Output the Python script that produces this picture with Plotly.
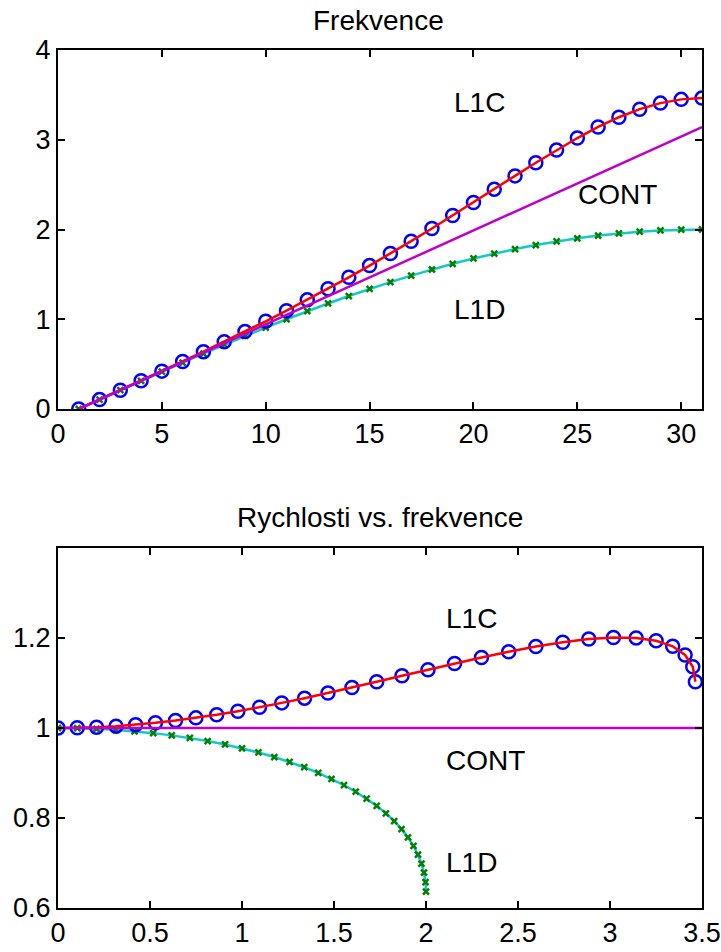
import plotly.graph_objects as go

# ---- data ----
idx = list(range(1, 32))

l1c_freq = [0, 0.1048, 0.2098, 0.3155, 0.4219, 0.5296, 0.6387, 0.7495, 0.8624, 0.9776,
            1.0954, 1.2162, 1.3400, 1.4671, 1.5978, 1.7321, 1.8698, 2.0110, 2.1552, 2.3016,
            2.4495, 2.5973, 2.7432, 2.8847, 3.0189, 3.1422, 3.2508, 3.3407, 3.4081, 3.4499, 3.4641]
l1d_freq = [0, 0.1047, 0.2091, 0.3129, 0.4158, 0.5176, 0.6180, 0.7167, 0.8135, 0.9080,
            1.0000, 1.0893, 1.1756, 1.2586, 1.3383, 1.4142, 1.4863, 1.5543, 1.6180, 1.6773,
            1.7321, 1.7820, 1.8271, 1.8672, 1.9021, 1.9319, 1.9563, 1.9754, 1.9890, 1.9973, 2.0000]
cont_freq = [0, 0.1047, 0.2094, 0.3142, 0.4189, 0.5236, 0.6283, 0.7330, 0.8378, 0.9425,
             1.0472, 1.1519, 1.2566, 1.3614, 1.4661, 1.5708, 1.6755, 1.7802, 1.8850, 1.9897,
             2.0944, 2.1991, 2.3038, 2.4086, 2.5133, 2.6180, 2.7227, 2.8274, 2.9322, 3.0369, 3.1416]

l1c_vel = [1.0, 1.0004, 1.0018, 1.0041, 1.0073, 1.0115, 1.0165, 1.0225, 1.0294, 1.0373,
           1.0461, 1.0558, 1.0663, 1.0777, 1.0899, 1.1027, 1.1160, 1.1296, 1.1433, 1.1568,
           1.1695, 1.1811, 1.1907, 1.1977, 1.2012, 1.2002, 1.1940, 1.1815, 1.1623, 1.1360, 1.1027]
l1d_vel = [1.0, 0.9995, 0.9982, 0.9959, 0.9927, 0.9886, 0.9836, 0.9778, 0.9710, 0.9634,
           0.9549, 0.9456, 0.9355, 0.9245, 0.9128, 0.9003, 0.8871, 0.8731, 0.8584, 0.8430,
           0.8270, 0.8103, 0.7931, 0.7752, 0.7568, 0.7379, 0.7185, 0.6987, 0.6784, 0.6577, 0.6366]
cont_vel_x = [0, 3.5]
cont_vel_y = [1, 1]

top_xticks = [0, 5, 10, 15, 20, 25, 30]
top_yticks = [0, 1, 2, 3, 4]
bot_xticks = [0, 0.5, 1, 1.5, 2, 2.5, 3, 3.5]
bot_xtext = ["0", "0.5", "1", "1.5", "2", "2.5", "3", "3.5"]
bot_yticks = [0.6, 0.8, 1.0, 1.2]
bot_ytext = ["0.6", "0.8", "1", "1.2"]

RED = "rgb(255,0,0)"
BLUE = "rgb(0,0,255)"
MAG = "rgb(190,0,200)"
CYAN = "rgb(20,200,200)"
GREEN = "rgb(0,128,0)"
FONT = "Liberation Sans, Arial, sans-serif"

fig = go.Figure()

def add_set(xc, yc, xd, yd, xk, yk, xa, ya):
    # L1D: cyan line + green x markers
    fig.add_trace(go.Scatter(x=xd, y=yd, mode="lines", line=dict(color=CYAN, width=2.5),
                             xaxis=xa, yaxis=ya, showlegend=False))
    fig.add_trace(go.Scatter(x=xd, y=yd, mode="markers",
                             marker=dict(symbol="x-thin", size=6, line=dict(color=GREEN, width=2.5)),
                             xaxis=xa, yaxis=ya, showlegend=False))
    # L1C: blue circles + red line
    fig.add_trace(go.Scatter(x=xc, y=yc, mode="markers",
                             marker=dict(symbol="circle-open", size=13, color=BLUE,
                                         line=dict(color=BLUE, width=2.5)),
                             xaxis=xa, yaxis=ya, showlegend=False))
    fig.add_trace(go.Scatter(x=xc, y=yc, mode="lines", line=dict(color=RED, width=2.5),
                             xaxis=xa, yaxis=ya, showlegend=False))
    # CONT: magenta line
    fig.add_trace(go.Scatter(x=xk, y=yk, mode="lines", line=dict(color=MAG, width=2.5),
                             xaxis=xa, yaxis=ya, showlegend=False))

add_set(idx, l1c_freq, idx, l1d_freq, idx, cont_freq, "x", "y")
add_set(l1c_freq, l1c_vel, l1d_freq, l1d_vel, cont_vel_x, cont_vel_y, "x2", "y2")

W, H = 721, 952
xdom = [58 / W, 702 / W]
top_dom = [(H - 409) / H, (H - 50) / H]
bot_dom = [(H - 908) / H, (H - 548) / H]

axcommon = dict(showline=True, linecolor="black", linewidth=2, mirror="ticks",
                ticks="inside", ticklen=7, tickwidth=2, tickcolor="black",
                showgrid=False, zeroline=False, automargin=False,
                tickfont=dict(family=FONT, size=27, color="black"))

fig.update_layout(
    template="none",
    width=W, height=H, margin=dict(l=0, r=0, t=0, b=0, pad=0),
    paper_bgcolor="white", plot_bgcolor="white",
    xaxis=dict(domain=xdom, range=[0, 31], tickvals=top_xticks, anchor="y", **axcommon),
    yaxis=dict(domain=top_dom, range=[0, 4], tickvals=top_yticks, anchor="x", **axcommon),
    xaxis2=dict(domain=xdom, range=[0, 3.5], tickvals=bot_xticks, ticktext=bot_xtext,
                anchor="y2", **axcommon),
    yaxis2=dict(domain=bot_dom, range=[0.6, 1.4], tickvals=bot_yticks, ticktext=bot_ytext,
                anchor="x2", **axcommon),
)

ann_font = dict(family=FONT, size=28, color="black")
labels = [
    ("L1C", 18.95, 3.41, "x", "y"),
    ("CONT", 24.94, 2.39, "x", "y"),
    ("L1D", 18.95, 1.11, "x", "y"),
    ("L1C", 2.10, 1.244, "x2", "y2"),
    ("CONT", 2.10, 0.928, "x2", "y2"),
    ("L1D", 2.10, 0.702, "x2", "y2"),
]
for t, x, y, xr, yr in labels:
    fig.add_annotation(text=t, x=x, y=y, xref=xr, yref=yr, showarrow=False,
                       xanchor="left", yanchor="middle", font=ann_font)

title_font = dict(family=FONT, size=28, color="black")
fig.add_annotation(text="Frekvence", x=378 / W, y=(H - 20) / H, xref="paper", yref="paper",
                   showarrow=False, xanchor="center", yanchor="middle", font=title_font)
fig.add_annotation(text="Rychlosti vs. frekvence", x=380 / W, y=(H - 517) / H,
                   xref="paper", yref="paper", showarrow=False, xanchor="center",
                   yanchor="middle", font=title_font)

fig.write_html("out.html")
